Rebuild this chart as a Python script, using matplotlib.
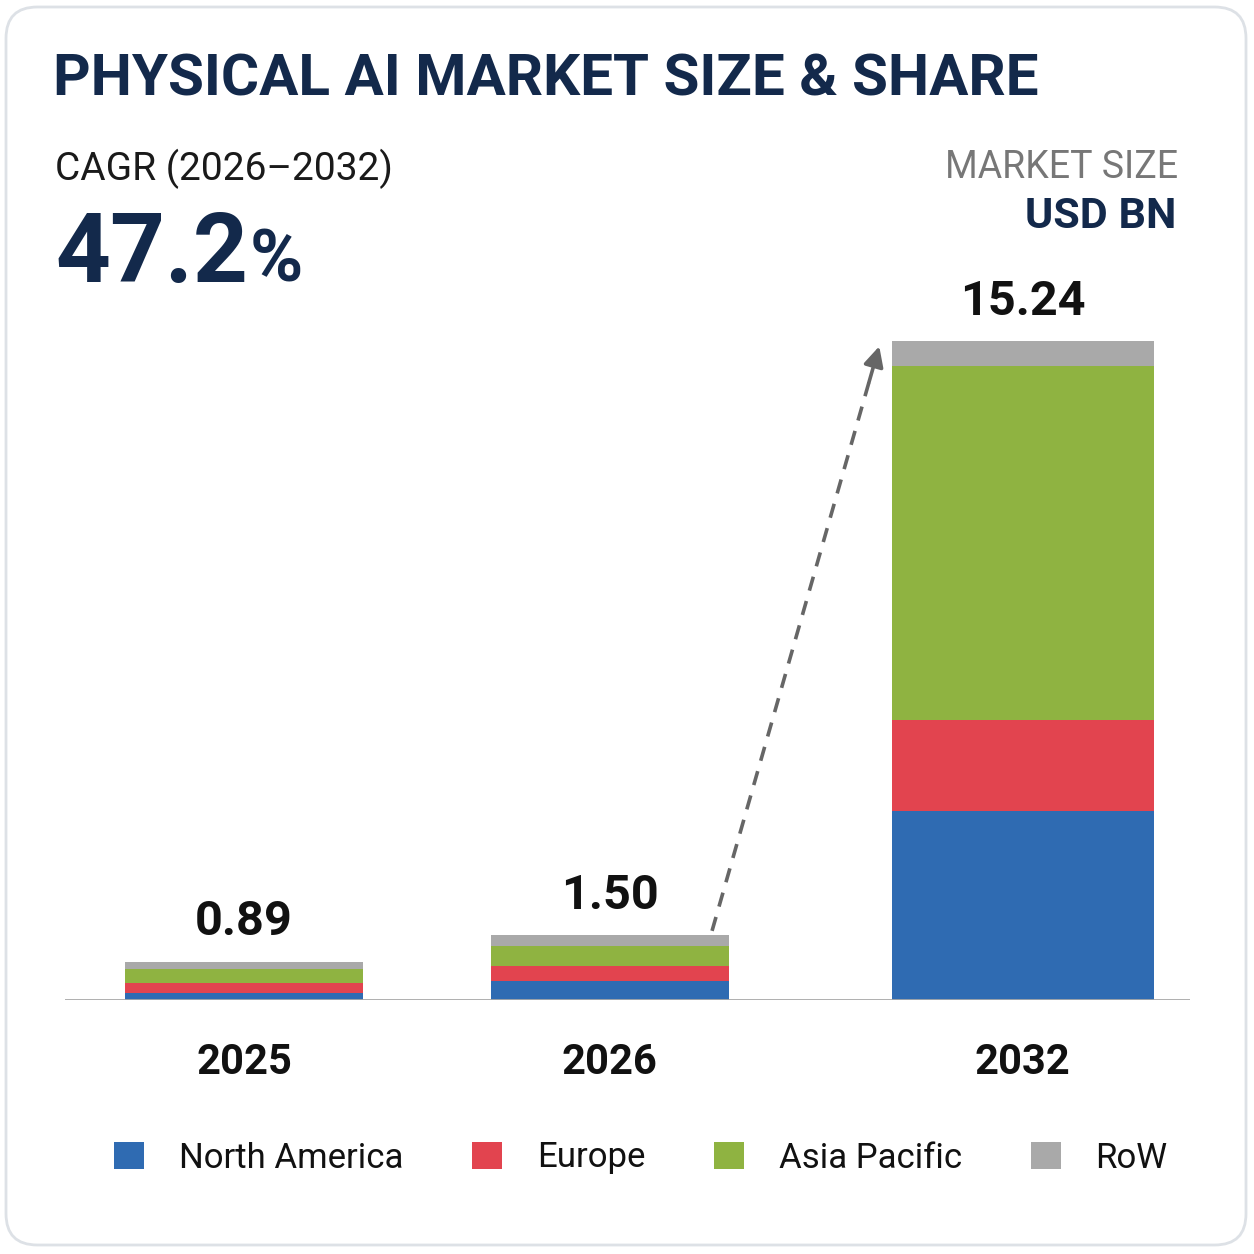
import matplotlib.pyplot as plt
from matplotlib.patches import FancyBboxPatch, Patch

# data
years = ["2025", "2026", "2032"]
regions = ["North America", "Europe", "Asia Pacific", "RoW"]
north_america = [0.16, 0.45, 4.37]
europe = [0.23, 0.33, 2.10]
asia_pacific = [0.33, 0.47, 8.21]
rest_of_world = [0.17, 0.25, 0.56]
totals = [0.89, 1.50, 15.24]
cagr = "47.2"

# layout
x_pos = [0, 1, 2.128]
widths = [0.65, 0.65, 0.716]
colors = ["#2f6bb2", "#e2444f", "#8fb341", "#a9a9a9"]
navy = "#13294b"

plt.rcParams['font.family'] = ['Roboto', 'DejaVu Sans']

W = 1254
fig = plt.figure(figsize=(12.54, 12.54), dpi=100, facecolor="white")

def fx(px):
    return px / W

def fy(py):
    return 1 - py / W

# card background
card = FancyBboxPatch((fx(6), fy(1245)), fx(1240), fx(1238),
                      boxstyle="round,pad=0,rounding_size=0.025",
                      transform=fig.transFigure, facecolor="white",
                      edgecolor="#dde1e6", linewidth=2, zorder=0)
fig.patches.append(card)

ax = fig.add_axes([fx(65), fy(1000), fx(1125), fx(700)])
ax.set_zorder(2)
ax.set_facecolor("none")
ax.set_xlim(-0.489, 2.585)
ax.set_ylim(0, 16.2)

series = [north_america, europe, asia_pacific, rest_of_world]
bottoms = [0, 0, 0]
for vals, col, name in zip(series, colors, regions):
    ax.bar(x_pos, vals, width=widths, bottom=bottoms, color=col, label=name, zorder=2)
    bottoms = [b + v for b, v in zip(bottoms, vals)]

for x, t in zip(x_pos, totals):
    ax.annotate(f"{t:.2f}", (x, t), xytext=(0, 12), textcoords="offset points",
                ha="center", va="bottom", fontsize=35, fontweight="bold", color="#111111")

# dashed growth arrow from 2026 to 2032
x0, y0 = 1.279, totals[1] + 0.1
x1, y1 = 1.738, totals[2] - 0.05
ax.plot([x0, x0 + (x1 - x0) * 0.95], [y0, y0 + (y1 - y0) * 0.95],
        color="#666666", lw=2.6, ls=(0, (4, 3)), zorder=3)
ax.annotate("", xy=(x1, y1), xytext=(x0 + (x1 - x0) * 0.93, y0 + (y1 - y0) * 0.93),
            arrowprops=dict(arrowstyle="-|>,head_length=1.2,head_width=0.6",
                            color="#666666", lw=2.6), zorder=3)

ax.axhline(0, color="#a8a8a8", lw=2, zorder=3)
ax.set_xticks(x_pos, years)
ax.tick_params(axis="x", length=0, pad=30, labelsize=30, labelcolor="#111111")
for lbl in ax.get_xticklabels():
    lbl.set_fontweight("bold")
ax.set_yticks([])
for s in ax.spines.values():
    s.set_visible(False)

# header texts
fig.text(fx(53), fy(95), "PHYSICAL AI MARKET SIZE & SHARE", fontsize=42,
         fontweight="bold", color=navy, va="baseline", ha="left")
fig.text(fx(55), fy(180), "CAGR (2026\u20132032)", fontsize=28,
         color="#1a1a1a", va="baseline", ha="left")
fig.text(fx(55), fy(282), cagr, fontsize=69, fontweight="bold",
         color=navy, va="baseline", ha="left")
fig.text(fx(250), fy(282), "%", fontsize=52, fontweight="bold",
         color=navy, va="baseline", ha="left")
fig.text(fx(1178), fy(178), "MARKET SIZE", fontsize=27, color="#777777",
         va="baseline", ha="right")
fig.text(fx(1176), fy(228), "USD BN", fontsize=31, fontweight="bold",
         color=navy, va="baseline", ha="right")

handles = [Patch(facecolor=c, edgecolor="none") for c in colors]
fig.legend(handles, regions, loc="center", bbox_to_anchor=(fx(641), fy(1158)),
           ncol=4, frameon=False, fontsize=25, handlelength=0.85, handleheight=0.85,
           handletextpad=1.0, columnspacing=2.0, labelcolor="#111111")

fig.savefig("out.png", dpi=100, facecolor="white")
